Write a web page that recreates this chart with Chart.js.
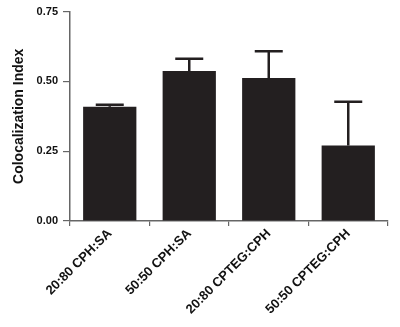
<!DOCTYPE html>
<html>
<head>
<meta charset="utf-8">
<script src="https://cdn.jsdelivr.net/npm/chart.js@4"></script>
<style>
  html, body { margin: 0; padding: 0; background: #fff; }
  #wrap { width: 400px; height: 327px; }
</style>
</head>
<body>
<div id="wrap"><canvas id="chart" width="400" height="327"></canvas></div>
<script>
// --- Data ---
const groups = ["20:80 CPH:SA", "50:50 CPH:SA", "20:80 CPTEG:CPH", "50:50 CPTEG:CPH"];
const means = [0.409, 0.537, 0.512, 0.270];
const errors = [0.007, 0.044, 0.096, 0.157];
const yTicks = [0, 0.25, 0.5, 0.75];

const axisColor = "#666";
const barColor = "#231f20";

// --- Error bars (upper only) ---
const errorBarPlugin = {
    id: "errorBars",
    afterDatasetsDraw(chart) {
        const meta = chart.getDatasetMeta(0);
        const yScale = chart.scales.y;
        const c = chart.ctx;
        c.save();
        c.strokeStyle = barColor;
        c.lineWidth = 2.5;
        meta.data.forEach((bar, i) => {
            const top = yScale.getPixelForValue(means[i] + errors[i]);
            const base = yScale.getPixelForValue(means[i]);
            c.beginPath();
            c.moveTo(bar.x, base);
            c.lineTo(bar.x, top);
            c.moveTo(bar.x - 14, top);
            c.lineTo(bar.x + 14, top);
            c.stroke();
        });
        c.restore();
    },
};

const fontFamily = "Liberation Sans, Arial, sans-serif";

new Chart(document.getElementById("chart").getContext("2d"), {
    type: "bar",
    data: {
        labels: groups,
        datasets: [{
            data: means,
            backgroundColor: barColor,
            barPercentage: 0.67,
            categoryPercentage: 1,
        }],
    },
    options: {
        responsive: false,
        animation: false,
        layout: { padding: { top: 10, right: 12, left: 0, bottom: 0 } },
        plugins: { legend: { display: false }, tooltip: { enabled: false } },
        scales: {
            x: {
                offset: true,
                grid: { drawOnChartArea: false, drawTicks: true, tickLength: 5, color: axisColor, lineWidth: 1.2 },
                border: { color: axisColor, width: 1.5 },
                ticks: {
                    color: "#111",
                    font: { family: fontFamily, weight: "bold", size: 13 },
                    minRotation: 45,
                    maxRotation: 45,
                    padding: 0,
                },
                afterFit(scale) { scale.height = 106; },
            },
            y: {
                min: 0,
                max: 0.75,
                afterBuildTicks(scale) { scale.ticks = yTicks.map(v => ({ value: v })); },
                grid: { drawOnChartArea: false, drawTicks: true, tickLength: 7, color: axisColor, lineWidth: 1.2 },
                border: { color: axisColor, width: 1.5 },
                ticks: {
                    color: "#111",
                    font: { family: fontFamily, weight: "bold", size: 11 },
                    padding: 5,
                    callback: (v) => Number(v).toFixed(2),
                },
                title: {
                    display: true,
                    text: "Colocalization Index",
                    color: "#111",
                    font: { family: fontFamily, weight: "bold", size: 14 },
                    padding: { top: 11, bottom: 4 },
                },
                afterFit(scale) { scale.width = 70; },
            },
        },
    },
    plugins: [errorBarPlugin],
});
</script>
</body>
</html>
